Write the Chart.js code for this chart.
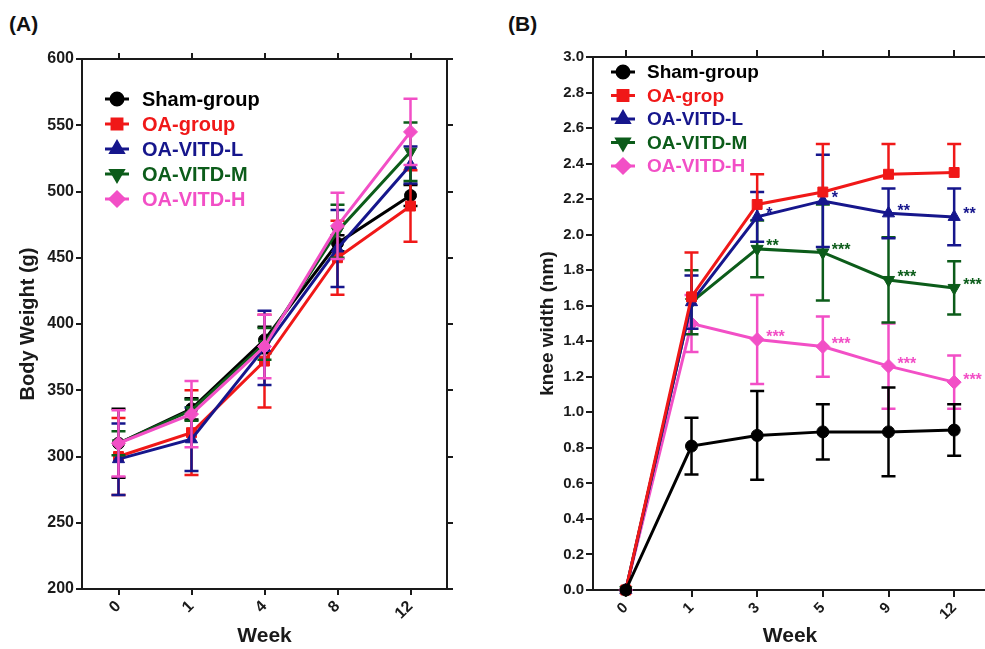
<!DOCTYPE html>
<html>
<head>
<meta charset="utf-8">
<script src="https://cdn.jsdelivr.net/npm/chart.js@4.4.1/dist/chart.umd.min.js"></script>
<style>
    body { margin: 0; width: 985px; height: 649px; overflow: hidden; background: #fff; position: relative; font-family: Arial, "Liberation Sans", sans-serif; }
    .panel { position: absolute; top: 0; height: 649px; }
    #boxA { left: 0; width: 490px; }
    #boxB { left: 490px; width: 505px; }
    .tag { position: absolute; top: 12px; font: bold 21px Arial, "Liberation Sans", sans-serif; color: #111; line-height: 24px; }
</style>
</head>
<body>
<div class="tag" style="left:9px">(A)</div>
<div class="tag" style="left:508px">(B)</div>
<div class="panel" id="boxA"><canvas id="chartA"></canvas></div>
<div class="panel" id="boxB"><canvas id="chartB"></canvas></div>
<script>
// --- Data: panel A (body weight, g) ---
const weeksA = ['0', '1', '4', '8', '12'];
const shamA = [310, 336, 388, 461, 497];
const shamAsd = [26, 8, 10, 6, 8];
const oaA = [300, 318, 372, 450, 489];
const oaAsd = [29, 32, 35, 28, 27];
const lowA = [298, 313, 382, 457, 520];
const lowAsd = [27, 24, 28, 29, 14];
const midA = [310, 335, 385, 470, 530];
const midAsd = [9, 8, 12, 20, 22];
const highA = [310, 332, 383, 474, 545];
const highAsd = [25, 25, 24, 25, 25];

// --- Data: panel B (knee width, nm) ---
const weeksB = ['0', '1', '3', '5', '9', '12'];
const shamB = [0, 0.81, 0.87, 0.89, 0.89, 0.90];
const shamBsd = [0, 0.16, 0.25, 0.155, 0.25, 0.145];
const oaB = [0, 1.65, 2.17, 2.24, 2.34, 2.35];
const oaBsd = [0, 0.25, 0.17, 0.27, 0.17, 0.16];
const lowB = [0, 1.62, 2.10, 2.19, 2.12, 2.10];
const lowBsd = [0, 0.15, 0.14, 0.26, 0.14, 0.16];
const midB = [0, 1.62, 1.92, 1.90, 1.745, 1.70];
const midBsd = [0, 0.18, 0.16, 0.27, 0.24, 0.15];
const highB = [0, 1.50, 1.41, 1.37, 1.26, 1.17];
const highBsd = [0, 0.16, 0.25, 0.17, 0.24, 0.15];
const starsLow = ['', '', '*', '*', '**', '**'];
const starsMid = ['', '', '**', '***', '***', '***'];
const starsHigh = ['', '', '***', '***', '***', '***'];

const yTicksA = { min: 200, max: 600, step: 50 };
const yTicksB = { min: 0, max: 3, step: 0.2 };

const COLORS = { sham: '#000000', oa: '#f01818', low: '#16168c', mid: '#0c5c1a', high: '#f24fc6' };
const AXIS = '#1a1a1a';
const FONT = 'Arial, "Liberation Sans", sans-serif';

Chart.defaults.font.family = FONT;
Chart.defaults.color = AXIS;

function series(label, color, style, rot, data, sd, opts) {
    opts = opts || {};
    return {
        label: label,
        data: data,
        errors: sd,
        upOnly: !!opts.upOnly,
        stars: opts.stars || [],
        order: opts.order || 0,
        borderColor: color,
        backgroundColor: color,
        borderWidth: 3,
        pointStyle: style,
        pointRotation: rot,
        pointRadius: style === 'circle' ? 6 : 7,
        pointBorderWidth: 1,
        tension: 0,
        clip: false
    };
}

// error bars, drawn per dataset right after its line
const errorBars = {
    id: 'errorBars',
    afterDatasetDraw(chart, args) {
        const ds = chart.data.datasets[args.index];
        const y = chart.scales.y;
        const ctx = chart.ctx;
        ctx.save();
        ctx.strokeStyle = ds.borderColor;
        ctx.lineWidth = 2.5;
        args.meta.data.forEach((pt, i) => {
            const sd = ds.errors[i];
            if (!sd) return;
            const top = y.getPixelForValue(ds.data[i] + sd);
            const bot = ds.upOnly ? pt.y : y.getPixelForValue(ds.data[i] - sd);
            ctx.beginPath();
            ctx.moveTo(pt.x, top); ctx.lineTo(pt.x, bot);
            ctx.moveTo(pt.x - 7, top); ctx.lineTo(pt.x + 7, top);
            if (!ds.upOnly) { ctx.moveTo(pt.x - 7, bot); ctx.lineTo(pt.x + 7, bot); }
            ctx.stroke();
        });
        ctx.restore();
    }
};

// significance asterisks next to points
const starMarks = {
    id: 'starMarks',
    afterDatasetsDraw(chart) {
        const ctx = chart.ctx;
        ctx.save();
        ctx.font = 'bold 16px ' + FONT;
        ctx.textAlign = 'left';
        ctx.textBaseline = 'middle';
        chart.data.datasets.forEach((ds, di) => {
            const meta = chart.getDatasetMeta(di);
            ctx.fillStyle = ds.borderColor;
            ds.stars.forEach((s, i) => {
                if (!s) return;
                const pt = meta.data[i];
                ctx.fillText(s, pt.x + 9, pt.y - 2);
            });
        });
        ctx.restore();
    }
};

// legend drawn inside the plot box, upper left
const insideLegend = {
    id: 'insideLegend',
    afterDraw(chart, args, opts) {
        const ctx = chart.ctx;
        const area = chart.chartArea;
        ctx.save();
        ctx.font = 'bold ' + opts.size + 'px ' + FONT;
        ctx.textBaseline = 'middle';
        ctx.textAlign = 'left';
        chart.data.datasets.forEach((ds, i) => {
            const mx = area.left + opts.dx;
            const my = area.top + opts.dy + i * opts.gap;
            ctx.strokeStyle = ds.borderColor;
            ctx.fillStyle = ds.borderColor;
            ctx.lineWidth = 3;
            ctx.beginPath();
            ctx.moveTo(mx - 12, my); ctx.lineTo(mx + 12, my);
            ctx.stroke();
            Chart.helpers.drawPoint(ctx, {
                pointStyle: ds.pointStyle,
                rotation: ds.pointRotation,
                radius: ds.pointRadius,
                borderWidth: 1
            }, mx, my);
            ctx.fillText(ds.label, mx + opts.textGap, my + 1);
        });
        ctx.restore();
    }
};

function boxAxes(labels, yr, sizes, yTitle, tickFont, yFmt, titles) {
    const grid = { drawOnChartArea: false, drawTicks: true, tickLength: sizes.tick, color: AXIS, lineWidth: 2 };
    const border = { color: AXIS, width: 2 };
    return {
        x: {
            type: 'category', labels: labels, offset: true, position: 'bottom',
            grid: grid, border: border,
            ticks: { minRotation: 45, maxRotation: 45, padding: 2, color: AXIS, font: { size: tickFont, weight: 'bold' } },
            title: { display: true, text: 'Week', color: AXIS, font: { size: titles.x, weight: 'bold' }, padding: { top: 0, bottom: 0 } },
            afterFit: s => { s.height = sizes.bottom; }
        },
        x2: {
            type: 'category', labels: labels, offset: true, position: 'top',
            grid: grid, border: border, ticks: { display: false },
            afterFit: s => { s.height = sizes.top; }
        },
        y: {
            min: yr.min, max: yr.max, position: 'left',
            grid: grid, border: border,
            ticks: { stepSize: yr.step, padding: 2, color: AXIS, font: { size: tickFont, weight: 'bold' }, callback: yFmt },
            title: { display: true, text: yTitle, color: AXIS, font: { size: titles.y, weight: 'bold' }, padding: { top: sizes.yTitlePad, bottom: 0 } },
            afterFit: s => { s.width = sizes.left; }
        },
        y2: {
            min: yr.min, max: yr.max, position: 'right',
            grid: grid, border: border,
            ticks: { stepSize: yr.step, display: false },
            afterFit: s => { s.width = sizes.right; }
        }
    };
}

// panel A: later groups are drawn over earlier ones
new Chart(document.getElementById('chartA'), {
    type: 'line',
    data: {
        labels: weeksA,
        datasets: [
            series('Sham-group', COLORS.sham, 'circle', 0, shamA, shamAsd, { order: 5 }),
            series('OA-group', COLORS.oa, 'rect', 0, oaA, oaAsd, { order: 4 }),
            series('OA-VITD-L', COLORS.low, 'triangle', 0, lowA, lowAsd, { order: 3 }),
            series('OA-VITD-M', COLORS.mid, 'triangle', 180, midA, midAsd, { order: 2 }),
            series('OA-VITD-H', COLORS.high, 'rectRot', 0, highA, highAsd, { order: 1 })
        ]
    },
    options: {
        responsive: true,
        maintainAspectRatio: false,
        animation: false,
        layout: { padding: 0 },
        scales: boxAxes(weeksA, yTicksA,
            { left: 82, right: 43, top: 59, bottom: 60, tick: 6, yTitlePad: 16 },
            'Body Weight (g)', 16, v => v, { x: 21, y: 20 }),
        plugins: {
            legend: { display: false },
            tooltip: { enabled: false },
            insideLegend: { dx: 35, dy: 40, gap: 25, textGap: 25, size: 20 }
        }
    },
    plugins: [errorBars, starMarks, insideLegend]
});

new Chart(document.getElementById('chartB'), {
    type: 'line',
    data: {
        labels: weeksB,
        datasets: [
            series('Sham-group', COLORS.sham, 'circle', 0, shamB, shamBsd),
            series('OA-grop', COLORS.oa, 'rect', 0, oaB, oaBsd, { upOnly: true }),
            series('OA-VITD-L', COLORS.low, 'triangle', 0, lowB, lowBsd, { stars: starsLow }),
            series('OA-VITD-M', COLORS.mid, 'triangle', 180, midB, midBsd, { stars: starsMid }),
            series('OA-VITD-H', COLORS.high, 'rectRot', 0, highB, highBsd, { stars: starsHigh })
        ]
    },
    options: {
        responsive: true,
        maintainAspectRatio: false,
        animation: false,
        layout: { padding: 0 },
        scales: boxAxes(weeksB, yTicksB,
            { left: 103, right: 8, top: 57, bottom: 59, tick: 7, yTitlePad: 46 },
            'knee width (nm)', 15, v => v.toFixed(1), { x: 21, y: 19 }),
        plugins: {
            legend: { display: false },
            tooltip: { enabled: false },
            insideLegend: { dx: 30, dy: 15, gap: 23.5, textGap: 24, size: 19 }
        }
    },
    plugins: [errorBars, starMarks, insideLegend]
});
</script>
</body>
</html>
